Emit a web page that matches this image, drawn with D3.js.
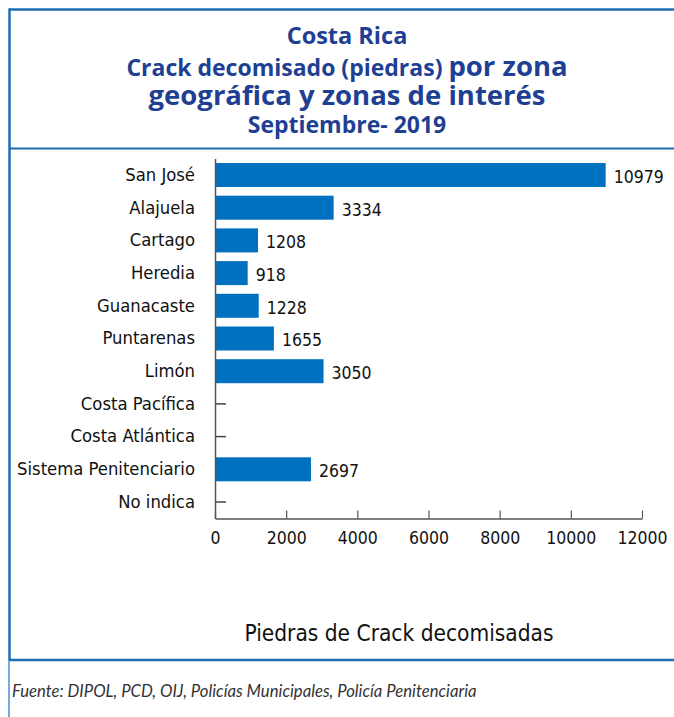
<!DOCTYPE html>
<html>
<head>
<meta charset="utf-8">
<script src="https://cdn.jsdelivr.net/npm/d3@7"></script>
<style>
  body { margin: 0; background: #fff; }
  .narrow { font-family: "Liberation Sans Narrow", "DejaVu Sans Condensed", "Roboto Condensed", sans-serif; }
</style>
</head>
<body>
<div class="chart"></div>
<script>
const categories = ["San José", "Alajuela", "Cartago", "Heredia", "Guanacaste", "Puntarenas",
  "Limón", "Costa Pacífica", "Costa Atlántica", "Sistema Penitenciario", "No indica"];
const values = [10979, 3334, 1208, 918, 1228, 1655, 3050, 0, 0, 2697, 0];
const xTicks = [0, 2000, 4000, 6000, 8000, 10000, 12000];
const titleLines = ["Costa Rica", "Crack decomisado (piedras) ", "por zona", "geográfica y zonas de interés", "Septiembre- 2019"];
const axisTitle = "Piedras de Crack decomisadas";
const source = "Fuente: DIPOL, PCD, OIJ, Policías Municipales, Policía Penitenciaria";

const W = 674, H = 717;
const frameColor = "#1b6cb0";
const titleColor = "#203f93";
const barColor = "#0070c0";

const svg = d3.select(".chart").append("svg")
  .attr("width", W).attr("height", H);

// frame
svg.append("line").attr("x1", 9).attr("x2", W).attr("y1", 9.5).attr("y2", 9.5)
  .attr("stroke", frameColor).attr("stroke-width", 2.5);
svg.append("line").attr("x1", 9.5).attr("x2", 9.5).attr("y1", 8.5).attr("y2", 660)
  .attr("stroke", frameColor).attr("stroke-width", 2.5);
svg.append("line").attr("x1", 9).attr("x2", W).attr("y1", 148.5).attr("y2", 148.5)
  .attr("stroke", frameColor).attr("stroke-width", 2);
svg.append("line").attr("x1", 9).attr("x2", W).attr("y1", 660).attr("y2", 660)
  .attr("stroke", frameColor).attr("stroke-width", 2.5);
svg.append("line").attr("x1", 9).attr("x2", 9).attr("y1", 660).attr("y2", H)
  .attr("stroke", "#4a8fd0").attr("stroke-width", 1.5);

// title
const title = svg.append("g")
  .attr("font-family", "'Open Sans', sans-serif")
  .attr("font-weight", "bold")
  .attr("fill", titleColor)
  .attr("text-anchor", "middle");
title.append("text").attr("x", 347).attr("y", 44).attr("font-size", 23.5).text(titleLines[0]);
const l2 = title.append("text").attr("x", 347).attr("y", 76);
l2.append("tspan").attr("font-size", 23).text(titleLines[1]);
l2.append("tspan").attr("font-size", 27.5).text(titleLines[2]);
title.append("text").attr("x", 347).attr("y", 105).attr("font-size", 27.5).text(titleLines[3]);
title.append("text").attr("x", 347).attr("y", 133).attr("font-size", 23).text(titleLines[4]);

// scales
const x = d3.scaleLinear().domain([0, 12000]).range([215, 642]);
const y = d3.scaleBand().domain(categories).range([158.5, 518.5])
  .paddingInner(0.266).paddingOuter(0.1375);

// bars
svg.selectAll(".bar").data(values.map((v, i) => ({ c: categories[i], v })))
  .enter().append("rect")
  .attr("class", "bar")
  .attr("fill", barColor)
  .attr("x", x(0))
  .attr("y", d => y(d.c))
  .attr("width", d => x(d.v) - x(0))
  .attr("height", y.bandwidth());

// zero markers
svg.selectAll(".zero").data(categories.filter((c, i) => values[i] === 0))
  .enter().append("line")
  .attr("x1", x(0)).attr("x2", x(0) + 11)
  .attr("y1", d => y(d) + y.bandwidth() / 2)
  .attr("y2", d => y(d) + y.bandwidth() / 2)
  .attr("stroke", "#444").attr("stroke-width", 1.5);

// value labels
svg.selectAll(".lbl").data(values.map((v, i) => ({ c: categories[i], v })).filter(d => d.v > 0))
  .enter().append("text")
  .attr("class", "narrow")
  .attr("x", d => x(d.v) + 8)
  .attr("y", d => y(d.c) + y.bandwidth() / 2)
  .attr("dy", "0.45em")
  .attr("font-size", 17.5)
  .attr("fill", "#111")
  .text(d => d.v);

// axes
const yAxis = svg.append("g")
  .attr("transform", `translate(${x(0)},0)`)
  .call(d3.axisLeft(y).tickSize(0).tickPadding(20));
yAxis.select(".domain").attr("stroke", "#555").attr("stroke-width", 1.5);
yAxis.selectAll("text").attr("class", "narrow").attr("font-size", 18.3).attr("fill", "#111");

const xAxis = svg.append("g")
  .attr("transform", "translate(0,518.5)")
  .call(d3.axisBottom(x).tickValues(xTicks).tickFormat(d3.format("d"))
    .tickSize(-8).tickSizeOuter(0).tickPadding(13));
xAxis.select(".domain").attr("stroke", "#555").attr("stroke-width", 1.5);
xAxis.selectAll(".tick line").attr("stroke", "#555").attr("stroke-width", 1.2);
xAxis.selectAll("text").attr("class", "narrow").attr("font-size", 17.5).attr("fill", "#111");

// axis title
svg.append("text").attr("class", "narrow")
  .attr("x", 399).attr("y", 641)
  .attr("text-anchor", "middle")
  .attr("font-size", 22.5)
  .attr("fill", "#111")
  .text(axisTitle);

// source
svg.append("text")
  .attr("x", 12).attr("y", 697)
  .attr("font-family", "Lato, sans-serif")
  .attr("font-style", "italic")
  .attr("font-size", 16.7)
  .attr("fill", "#333")
  .text(source);
</script>
</body>
</html>
